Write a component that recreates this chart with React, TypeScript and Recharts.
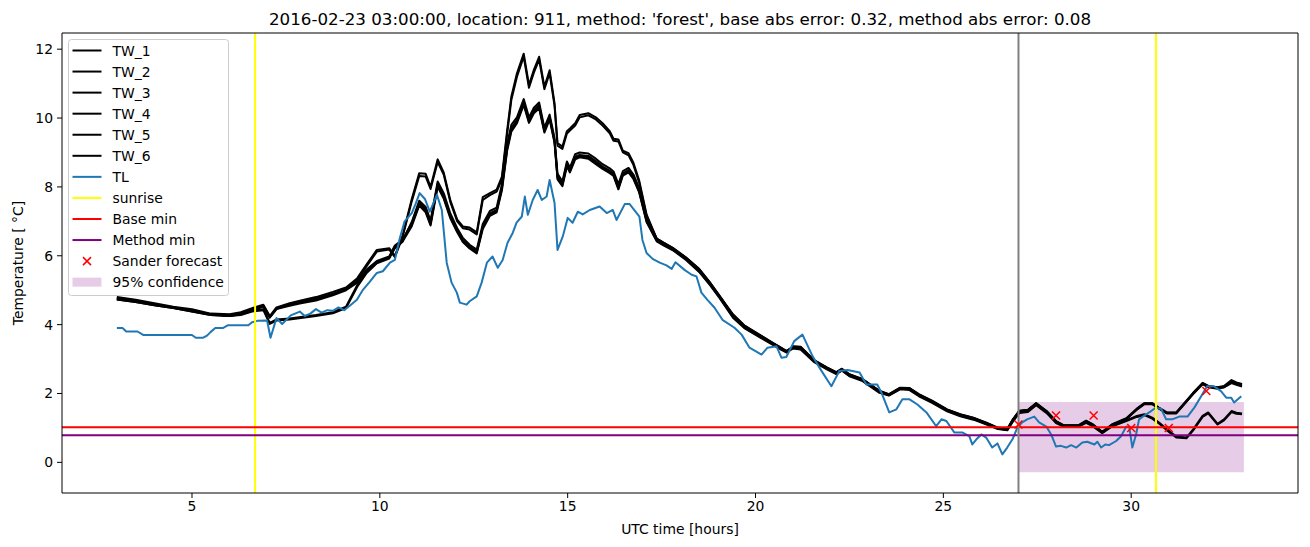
import React from 'react';
import { ComposedChart, Line, Scatter, XAxis, YAxis, ReferenceLine, ReferenceArea } from 'recharts';

const FONT = '"DejaVu Sans", sans-serif';

// shared time grid of the TW sensors (UTC hours)
const twHours = [
  3.0, 3.5, 4.0, 4.5, 5.0, 5.5, 6.0, 6.3, 6.6, 6.9,
  7.07, 7.25, 7.6, 7.9, 8.3, 8.75, 9.1, 9.4, 9.65, 9.92,
  10.25, 10.4, 10.6, 10.85, 11.05, 11.22, 11.35, 11.54, 11.7, 11.88,
  12.06, 12.21, 12.39, 12.58, 12.74, 12.93, 13.11, 13.25, 13.39, 13.5,
  13.65, 13.83, 13.97, 14.1, 14.24, 14.38, 14.52, 14.65, 14.73, 14.86,
  14.98, 15.06, 15.2, 15.32, 15.55, 15.75, 15.93, 16.12, 16.22, 16.35,
  16.47, 16.62, 16.75, 16.9, 17.1, 17.37, 17.55, 17.8, 18.15, 18.5,
  18.8, 19.05, 19.4, 19.7, 20.15, 20.45, 20.7, 20.83, 21.0, 21.2,
  21.55, 21.9, 22.15, 22.3, 22.5, 22.85, 23.3, 23.55, 23.85, 24.1,
  24.35, 24.7, 25.1, 25.45, 25.8, 26.15, 26.45, 26.7, 26.85, 27.02,
  27.25, 27.47, 27.75, 28.0, 28.2, 28.6, 28.8, 28.97, 29.23, 29.5,
  29.87, 30.15, 30.35, 30.56, 30.75, 30.95, 31.2, 31.47, 31.65, 31.9,
  32.05, 32.3, 32.47, 32.67, 32.8, 32.95,
];

const tw1 = [
  4.80, 4.72, 4.62, 4.52, 4.45, 4.32, 4.30, 4.36, 4.48, 4.58,
  4.25, 4.50, 4.62, 4.70, 4.80, 4.95, 5.08, 5.35, 5.75, 6.17,
  6.22, 6.00, 6.56, 7.65, 8.40, 8.38, 8.00, 8.80, 8.42, 7.60,
  7.05, 6.85, 6.82, 6.68, 7.70, 7.82, 7.92, 8.30, 9.65, 10.62,
  11.30, 11.87, 10.96, 11.40, 11.78, 10.91, 11.39, 10.43, 9.27, 9.17,
  9.62, 9.70, 9.85, 10.09, 10.14, 10.02, 9.85, 9.62, 9.40, 9.38,
  9.05, 8.98, 8.70, 8.20, 7.20, 6.50, 6.38, 6.23, 5.95, 5.62,
  5.20, 4.82, 4.30, 3.98, 3.68, 3.48, 3.32, 3.22, 3.37, 3.36,
  2.98, 2.76, 2.62, 2.72, 2.56, 2.42, 2.08, 1.98, 2.17, 2.16,
  1.98, 1.79, 1.54, 1.40, 1.30, 1.15, 1.01, 0.97, 1.25, 1.50,
  1.53, 1.72, 1.49, 1.20, 1.08, 1.08, 1.21, 1.11, 0.89, 1.11,
  1.28, 1.56, 1.72, 1.72, 1.58, 1.45, 1.45, 1.79, 2.02, 2.31,
  2.22, 2.18, 2.22, 2.39, 2.32, 2.28,
];

const tw2 = [
  4.78, 4.70, 4.60, 4.50, 4.42, 4.30, 4.28, 4.34, 4.45, 4.55,
  4.22, 4.46, 4.58, 4.66, 4.76, 4.90, 5.04, 5.30, 5.70, 6.12,
  6.18, 5.96, 6.52, 7.58, 8.32, 8.30, 7.94, 8.72, 8.36, 7.55,
  7.00, 6.80, 6.76, 6.62, 7.62, 7.76, 7.86, 8.22, 9.55, 10.52,
  11.20, 11.78, 10.88, 11.32, 11.70, 10.84, 11.30, 10.36, 9.20, 9.10,
  9.55, 9.64, 9.78, 10.02, 10.08, 9.96, 9.78, 9.56, 9.34, 9.32,
  9.00, 8.92, 8.64, 8.14, 7.15, 6.48, 6.36, 6.21, 5.93, 5.60,
  5.18, 4.80, 4.28, 3.96, 3.66, 3.46, 3.30, 3.21, 3.35, 3.34,
  2.96, 2.74, 2.60, 2.70, 2.54, 2.40, 2.06, 1.97, 2.15, 2.14,
  1.96, 1.77, 1.52, 1.38, 1.28, 1.13, 0.99, 0.95, 1.23, 1.48,
  1.51, 1.70, 1.47, 1.18, 1.06, 1.06, 1.19, 1.09, 0.87, 1.09,
  1.26, 1.53, 1.69, 1.69, 1.55, 1.42, 1.42, 1.76, 1.98, 2.27,
  2.18, 2.14, 2.18, 2.33, 2.27, 2.23,
];

const tw3 = [
  4.75, 4.68, 4.58, 4.50, 4.40, 4.30, 4.26, 4.32, 4.44, 4.55,
  4.22, 4.48, 4.58, 4.65, 4.72, 4.88, 5.02, 5.25, 5.60, 5.85,
  5.98, 6.30, 6.46, 6.95, 7.54, 7.35, 6.96, 8.10, 7.75, 7.15,
  6.75, 6.46, 6.27, 6.12, 6.85, 7.23, 7.33, 8.00, 9.17, 9.70,
  9.94, 10.48, 9.94, 10.23, 10.38, 9.65, 10.04, 9.36, 8.30, 8.10,
  8.68, 8.49, 8.88, 8.93, 8.90, 8.75, 8.59, 8.47, 8.38, 8.00,
  8.40, 8.49, 8.30, 7.92, 7.05, 6.46, 6.35, 6.20, 5.92, 5.58,
  5.18, 4.80, 4.25, 3.95, 3.65, 3.46, 3.30, 3.24, 3.35, 3.34,
  2.96, 2.74, 2.60, 2.70, 2.54, 2.40, 2.06, 1.96, 2.15, 2.14,
  1.96, 1.77, 1.52, 1.38, 1.28, 1.13, 0.99, 0.95, 1.23, 1.48,
  1.51, 1.70, 1.47, 1.18, 1.06, 1.06, 1.19, 1.09, 0.87, 1.09,
  1.25, 1.54, 1.70, 1.70, 1.56, 1.43, 1.43, 1.77, 2.00, 2.28,
  2.20, 2.15, 2.18, 2.30, 2.25, 2.20,
];

const tw4 = [
  4.73, 4.66, 4.56, 4.48, 4.38, 4.28, 4.25, 4.30, 4.42, 4.52,
  4.20, 4.45, 4.55, 4.62, 4.70, 4.85, 5.00, 5.22, 5.58, 5.82,
  5.95, 6.26, 6.42, 6.98, 7.60, 7.42, 7.02, 8.16, 7.82, 7.22,
  6.80, 6.52, 6.32, 6.18, 6.92, 7.30, 7.40, 8.08, 9.25, 9.80,
  10.02, 10.55, 10.02, 10.30, 10.45, 9.72, 10.10, 9.42, 8.38, 8.16,
  8.74, 8.56, 8.95, 9.00, 8.97, 8.82, 8.66, 8.54, 8.45, 8.08,
  8.46, 8.55, 8.36, 7.98, 7.10, 6.50, 6.38, 6.22, 5.95, 5.61,
  5.21, 4.83, 4.28, 3.97, 3.67, 3.47, 3.31, 3.23, 3.36, 3.35,
  2.97, 2.75, 2.61, 2.71, 2.55, 2.41, 2.07, 1.97, 2.16, 2.15,
  1.97, 1.78, 1.53, 1.39, 1.29, 1.14, 1.00, 0.96, 1.24, 1.49,
  1.52, 1.71, 1.48, 1.19, 1.07, 1.07, 1.20, 1.10, 0.88, 1.10,
  1.27, 1.55, 1.71, 1.71, 1.57, 1.44, 1.44, 1.78, 2.01, 2.30,
  2.22, 2.17, 2.20, 2.36, 2.30, 2.26,
];

const tw5 = [
  4.75, 4.68, 4.58, 4.50, 4.40, 4.30, 4.26, 4.30, 4.40, 4.45,
  4.05, 4.15, 4.18, 4.22, 4.28, 4.36, 4.52, 5.15, 5.55, 5.80,
  5.95, 6.25, 6.42, 6.90, 7.50, 7.30, 6.92, 8.05, 7.70, 7.12,
  6.72, 6.42, 6.24, 6.10, 6.82, 7.20, 7.30, 7.95, 9.12, 9.65,
  9.90, 10.42, 9.90, 10.18, 10.32, 9.62, 10.00, 9.32, 8.26, 8.06,
  8.64, 8.45, 8.84, 8.90, 8.86, 8.70, 8.55, 8.42, 8.35, 7.96,
  8.36, 8.45, 8.26, 7.88, 7.00, 6.44, 6.32, 6.18, 5.90, 5.55,
  5.15, 4.78, 4.22, 3.92, 3.63, 3.44, 3.28, 3.20, 3.33, 3.30,
  2.94, 2.72, 2.58, 2.68, 2.52, 2.38, 2.04, 1.95, 2.14, 2.12,
  1.94, 1.75, 1.50, 1.36, 1.26, 1.12, 0.98, 0.94, 1.20, 1.45,
  1.48, 1.68, 1.45, 1.16, 1.05, 1.05, 1.17, 1.07, 0.86, 1.07,
  1.22, 1.35, 1.40, 1.30, 1.15, 0.96, 0.75, 0.72, 0.96, 1.35,
  1.45, 1.12, 1.25, 1.49, 1.44, 1.42,
];

const tw6 = [
  4.73, 4.66, 4.56, 4.48, 4.38, 4.28, 4.25, 4.28, 4.38, 4.42,
  4.02, 4.12, 4.15, 4.19, 4.25, 4.33, 4.48, 5.10, 5.50, 5.78,
  5.92, 6.22, 6.40, 6.86, 7.46, 7.26, 6.88, 8.00, 7.66, 7.08,
  6.68, 6.40, 6.21, 6.07, 6.78, 7.16, 7.26, 7.90, 9.06, 9.60,
  9.85, 10.38, 9.86, 10.14, 10.28, 9.58, 9.96, 9.28, 8.22, 8.02,
  8.60, 8.42, 8.80, 8.86, 8.82, 8.66, 8.52, 8.40, 8.32, 7.93,
  8.33, 8.42, 8.23, 7.85, 6.98, 6.42, 6.30, 6.16, 5.88, 5.53,
  5.13, 4.76, 4.20, 3.90, 3.61, 3.42, 3.26, 3.19, 3.31, 3.28,
  2.92, 2.70, 2.56, 2.66, 2.50, 2.36, 2.02, 1.94, 2.12, 2.10,
  1.92, 1.73, 1.48, 1.34, 1.24, 1.10, 0.97, 0.93, 1.18, 1.43,
  1.46, 1.66, 1.43, 1.14, 1.04, 1.04, 1.15, 1.05, 0.85, 1.05,
  1.20, 1.32, 1.37, 1.27, 1.12, 0.93, 0.72, 0.70, 0.93, 1.32,
  1.42, 1.10, 1.22, 1.46, 1.41, 1.40,
];

// air temperature TL
const tlHours = [
  3.0, 3.15, 3.25, 3.55, 3.7, 5.0, 5.1, 5.3, 5.4, 5.5,
  5.62, 5.82, 5.95, 6.5, 6.6, 6.75, 7.0, 7.09, 7.25, 7.4,
  7.63, 7.87, 8.0, 8.15, 8.3, 8.45, 8.6, 8.75, 8.9, 9.05,
  9.2, 9.39, 9.55, 9.73, 9.92, 10.08, 10.27, 10.4, 10.53, 10.66,
  10.85, 10.95, 11.06, 11.2, 11.33, 11.52, 11.65, 11.78, 11.91, 12.05,
  12.13, 12.31, 12.39, 12.58, 12.71, 12.85, 13.0, 13.14, 13.27, 13.4,
  13.54, 13.64, 13.78, 13.86, 13.94, 14.07, 14.2, 14.31, 14.44, 14.52,
  14.65, 14.73, 14.87, 15.0, 15.13, 15.27, 15.4, 15.59, 15.85, 16.04,
  16.2, 16.3, 16.52, 16.65, 16.91, 16.99, 17.1, 17.26, 17.45, 17.63,
  17.77, 17.87, 18.11, 18.3, 18.43, 18.56, 18.72, 18.91, 19.12, 19.44,
  19.63, 19.84, 20.16, 20.32, 20.56, 20.69, 20.82, 21.03, 21.25, 21.52,
  21.76, 22.02, 22.23, 22.45, 22.77, 22.95, 23.24, 23.35, 23.56, 23.75,
  23.91, 24.1, 24.31, 24.55, 24.81, 24.95, 25.08, 25.29, 25.5, 25.69,
  25.77, 25.88, 26.01, 26.14, 26.3, 26.44, 26.57, 26.7, 26.84, 26.97,
  27.1, 27.23, 27.42, 27.55, 27.74, 27.87, 28.0, 28.13, 28.27, 28.4,
  28.54, 28.7, 28.83, 29.02, 29.1, 29.2, 29.31, 29.41, 29.6, 29.73,
  29.87, 29.95, 30.03, 30.13, 30.21, 30.35, 30.53, 30.66, 30.8, 30.93,
  31.09, 31.28, 31.5, 31.68, 31.89, 32.02, 32.2, 32.39, 32.53, 32.66,
  32.74, 32.93,
];

const tlTemps = [
  3.90, 3.90, 3.80, 3.80, 3.70, 3.70, 3.62, 3.62, 3.68, 3.79,
  3.90, 3.90, 3.98, 3.98, 4.07, 4.11, 4.12, 3.62, 4.19, 4.02,
  4.27, 4.38, 4.25, 4.32, 4.45, 4.35, 4.42, 4.40, 4.50, 4.42,
  4.55, 4.72, 5.01, 5.24, 5.50, 5.55, 5.80, 5.88, 6.50, 7.00,
  7.24, 7.50, 7.82, 7.65, 7.28, 7.77, 7.33, 5.80, 5.22, 4.93,
  4.64, 4.58, 4.68, 4.82, 5.22, 5.80, 5.98, 5.65, 5.88, 6.38,
  6.67, 6.96, 7.14, 7.72, 7.19, 7.62, 7.91, 7.62, 7.72, 8.20,
  7.54, 6.17, 6.56, 7.10, 6.96, 7.28, 7.20, 7.33, 7.43, 7.24,
  7.33, 7.04, 7.50, 7.50, 7.14, 6.46, 6.08, 5.91, 5.80, 5.72,
  5.62, 5.81, 5.59, 5.45, 5.40, 4.93, 4.72, 4.49, 4.14, 3.91,
  3.71, 3.33, 3.13, 3.33, 3.37, 3.04, 3.06, 3.52, 3.71, 3.08,
  2.65, 2.21, 2.65, 2.68, 2.61, 2.26, 2.26, 2.03, 1.45, 1.54,
  1.83, 1.83, 1.68, 1.45, 1.05, 1.25, 1.20, 0.87, 0.87, 0.76,
  0.52, 0.67, 0.81, 0.72, 0.43, 0.55, 0.23, 0.43, 0.67, 1.01,
  1.16, 1.25, 1.33, 1.16, 1.04, 0.81, 0.46, 0.48, 0.43, 0.50,
  0.43, 0.58, 0.60, 0.52, 0.60, 0.43, 0.52, 0.50, 0.62, 0.76,
  1.04, 1.02, 0.43, 0.81, 1.25, 1.36, 1.49, 1.59, 1.55, 1.25,
  1.25, 1.33, 1.33, 1.59, 1.97, 2.21, 2.21, 2.07, 1.88, 1.88,
  1.74, 1.92,
];

// Sander forecast points
const sanderHours = [27, 28, 29, 30, 31, 32];
const sanderTemps = [1.1, 1.36, 1.36, 1.0, 1.0, 2.07];

// markers
const sunriseHours = [6.68, 30.66];
const forecastStart = 27.0;
const baseMin = 1.02;
const methodMin = 0.79;
const confStart = 27.0;
const confEnd = 33.0;
const confLow = -0.29;
const confHigh = 1.75;

const xTicks = [5, 10, 15, 20, 25, 30];
const yTicks = [0, 2, 4, 6, 8, 10, 12];
const xDomain = [1.54, 34.44];
const yDomain = [-0.89, 12.47];

const twSeries = [tw1, tw2, tw3, tw4, tw5, tw6];
const legendLabels = ['TW_1', 'TW_2', 'TW_3', 'TW_4', 'TW_5', 'TW_6', 'TL', 'sunrise', 'Base min', 'Method min', 'Sander forecast', '95% confidence'];

const toPoints = (hours: number[], vals: number[]) => hours.map((h, i) => ({ h, v: vals[i] }));

const XMark = (props: any) => {
  const { cx, cy } = props;
  if (cx == null || cy == null) return null;
  const s = 4;
  return (
    <path
      d={`M${cx - s},${cy - s}L${cx + s},${cy + s}M${cx - s},${cy + s}L${cx + s},${cy - s}`}
      stroke="#ff0000"
      strokeWidth={1.5}
      fill="none"
    />
  );
};

const Legend = () => {
  const rowY = (i: number) => 11 + i * 21.06;
  return (
    <g transform="translate(68.5,39.5)">
      <rect x={0} y={0} width={160} height={256} rx={3} fill="#ffffff" fillOpacity={0.8} stroke="#cccccc" />
      {legendLabels.map((label, i) => {
        const y = rowY(i);
        let handle: React.ReactNode;
        if (i < 6) handle = <line x1={4} x2={33} y1={y} y2={y} stroke="#000" strokeWidth={2} />;
        else if (i === 6) handle = <line x1={4} x2={33} y1={y} y2={y} stroke="#1f77b4" strokeWidth={2} />;
        else if (i === 7) handle = <line x1={4} x2={33} y1={y} y2={y} stroke="#ffff00" strokeWidth={2} />;
        else if (i === 8) handle = <line x1={4} x2={33} y1={y} y2={y} stroke="#ff0000" strokeWidth={2} />;
        else if (i === 9) handle = <line x1={4} x2={33} y1={y} y2={y} stroke="#800080" strokeWidth={2} />;
        else if (i === 10) handle = <XMark cx={18.5} cy={y} />;
        else handle = <rect x={4} y={y - 4.5} width={29} height={9} fill="#800080" fillOpacity={0.2} />;
        return (
          <g key={label}>
            {handle}
            <text x={44} y={y + 5} fontSize={13.9} fontFamily={FONT} fill="#000">{label}</text>
          </g>
        );
      })}
    </g>
  );
};

export default function App() {
  const tickStyle = { fill: '#000', fontSize: 13.9, fontFamily: FONT };
  return (
    <div style={{ position: 'absolute', left: 0, top: 0, width: 1310, height: 547, background: '#fff' }}>
      <ComposedChart width={1310} height={547} margin={{ top: 33, right: 12, bottom: 24, left: 0 }}>
        <XAxis
          type="number"
          dataKey="h"
          domain={xDomain}
          ticks={xTicks}
          allowDataOverflow
          height={30}
          tick={tickStyle}
          tickSize={5}
          tickMargin={3}
          stroke="#000"
        />
        <YAxis
          type="number"
          dataKey="v"
          domain={yDomain}
          ticks={yTicks}
          allowDataOverflow
          width={62}
          tick={tickStyle}
          tickSize={5}
          tickMargin={4}
          stroke="#000"
        />

        <ReferenceArea x1={confStart} x2={confEnd} y1={confLow} y2={confHigh} fill="#800080" fillOpacity={0.2} stroke="none" />

        {twSeries.map((vals, i) => (
          <Line
            key={`tw${i}`}
            data={toPoints(twHours, vals)}
            dataKey="v"
            type="linear"
            stroke="#000000"
            strokeWidth={2}
            strokeLinejoin="round"
            dot={false}
            activeDot={false}
            isAnimationActive={false}
          />
        ))}
        <Line
          data={toPoints(tlHours, tlTemps)}
          dataKey="v"
          type="linear"
          stroke="#1f77b4"
          strokeWidth={2}
          strokeLinejoin="round"
          dot={false}
          activeDot={false}
          isAnimationActive={false}
        />

        {sunriseHours.map((h) => (
          <ReferenceLine key={h} x={h} stroke="#ffff00" strokeWidth={2} />
        ))}
        <ReferenceLine y={baseMin} stroke="#ff0000" strokeWidth={2} />
        <ReferenceLine y={methodMin} stroke="#800080" strokeWidth={2} />
        <ReferenceLine x={forecastStart} stroke="#808080" strokeWidth={2} />

        {/* top and right spines of the frame */}
        <ReferenceLine y={yDomain[1]} stroke="#000" strokeWidth={1} />
        <ReferenceLine x={xDomain[1]} stroke="#000" strokeWidth={1} />

        <Scatter
          data={toPoints(sanderHours, sanderTemps)}
          dataKey="v"
          shape={<XMark />}
          isAnimationActive={false}
        />
      </ComposedChart>

      <svg width={1310} height={547} style={{ position: 'absolute', left: 0, top: 0, pointerEvents: 'none' }}>
        <text x={680} y={25} textAnchor="middle" fontSize={16.7} fontFamily={FONT} fill="#000">
          2016-02-23 03:00:00, location: 911, method: 'forest', base abs error: 0.32, method abs error: 0.08
        </text>
        <text x={680} y={534} textAnchor="middle" fontSize={13.9} fontFamily={FONT} fill="#000">
          UTC time [hours]
        </text>
        <text transform="translate(23,263) rotate(-90)" textAnchor="middle" fontSize={13.9} fontFamily={FONT} fill="#000">
          Temperature [ °C]
        </text>
        <Legend />
      </svg>
    </div>
  );
}
